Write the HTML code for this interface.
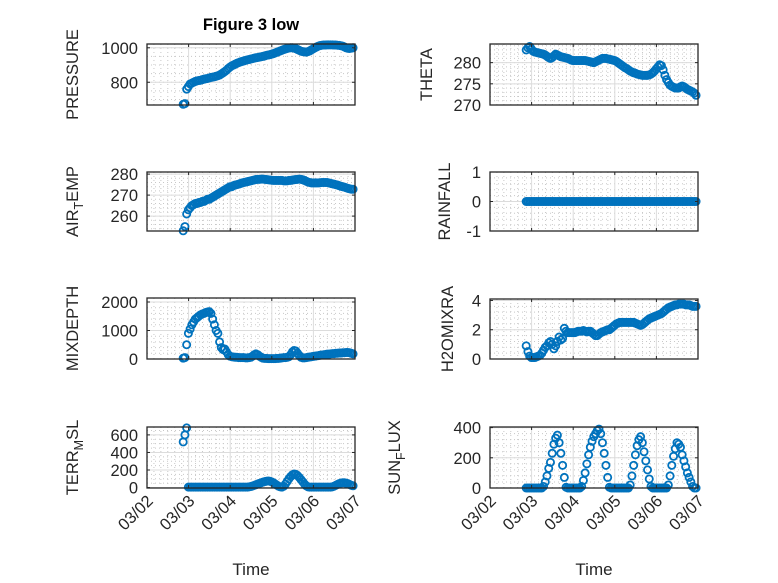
<!DOCTYPE html>
<html><head><meta charset="utf-8"><style>
html,body{margin:0;padding:0;background:#fff;}
svg{display:block;font-family:"Liberation Sans",sans-serif;}
</style></head><body>
<svg id="fig" width="778" height="583" viewBox="0 0 778 583">
<rect width="778" height="583" fill="#fff"/>
<text x="251" y="30" font-size="16.5" font-weight="bold" text-anchor="middle" fill="#000">Figure 3 low</text>
</svg>
<script>
// ---- data (hourly samples starting at day START) ----
const START = 0.87, STEP = 1/24;
const xTickLabels = ["03/02","03/03","03/04","03/05","03/06","03/07"];
const pressure = [672,676,760,775,790,795,800,805,808,810,812,815,
818,820,822,825,828,830,832,835,838,842,848,855,
862,870,880,888,895,900,905,910,914,918,921,924,
927,930,932,935,937,940,942,944,946,948,950,953,
956,958,960,963,966,970,974,978,982,986,990,993,
996,999,1000,1000,998,995,990,985,980,978,976,975,
978,982,988,994,1000,1005,1010,1013,1015,1016,1016,1017,
1017,1017,1017,1016,1016,1015,1014,1012,1010,1005,1000,997,
996,998,1000];
const theta = [283,283.5,283.8,283.2,282.7,282.5,282.4,282.3,282.2,282.1,282,281.8,
281.5,281.2,281,281.2,281.6,282,281.8,281.6,281.4,281.3,281.2,281.1,
281,280.8,280.6,280.5,280.5,280.5,280.5,280.5,280.5,280.5,280.5,280.4,
280.3,280.2,280.1,280,280.2,280.4,280.6,280.8,281,281,281,280.9,
280.8,280.7,280.6,280.5,280.3,280,279.7,279.4,279.1,278.8,278.6,278.3,
278,277.8,277.6,277.5,277.3,277.2,277.1,277,277,277,277,277.1,
277.3,277.6,278,278.5,279,279.5,279.3,278.3,277,276,275.3,274.7,
274.4,274.2,274,274,274,274.3,274.5,274.3,274,273.7,273.5,273.3,
273.1,272.8,272.3];
const airTemp = [253,255,261,263,264,265,265.5,266,266,266.5,266.5,267,
267,267.5,268,268,268.5,269,269.5,270,270.5,271,271.5,272,
272.5,273,273.5,274,274,274.5,274.8,275,275.2,275.5,275.8,276,
276.2,276.4,276.6,276.8,277,277.2,277.4,277.5,277.5,277.6,277.6,277.5,
277.4,277.3,277.2,277.1,277,277,277,277,277,277,276.8,276.8,
276.8,277,277,277.2,277.3,277.4,277.5,277.6,277.5,277.3,277,276.6,
276.2,276,275.8,275.8,275.8,275.8,275.8,275.9,276,276,276,276,
275.8,275.6,275.4,275.2,275,274.8,274.5,274.2,274,273.8,273.5,273.2,
273,272.8,272.8];
const rainfall = [0,0,0,0,0,0,0,0,0,0,0,0, 0,0,0,0,0,0,0,0,0,0,0,0,
0,0,0,0,0,0,0,0,0,0,0,0, 0,0,0,0,0,0,0,0,0,0,0,0,
0,0,0,0,0,0,0,0,0,0,0,0, 0,0,0,0,0,0,0,0,0,0,0,0,
0,0,0,0,0,0,0,0,0,0,0,0, 0,0,0,0,0,0,0,0,0,0,0,0, 0,0,0];
const mixDepth = [30,50,500,900,1050,1200,1300,1400,1450,1500,1550,1580,
1600,1630,1650,1660,1600,1400,1200,1000,900,600,400,330,
350,250,150,100,80,70,60,60,50,50,50,50,
40,40,50,60,100,150,180,150,100,60,30,20,
20,15,15,15,15,15,20,20,30,40,50,50,
60,80,150,250,300,280,200,120,60,40,40,50,
60,70,80,90,100,110,120,130,140,150,160,170,
170,180,190,190,200,200,210,210,220,220,230,230,
220,200,180];
const h2oMix = [0.9,0.5,0.2,0.1,0.1,0.1,0.15,0.2,0.25,0.4,0.6,0.8,
0.9,1.1,1.2,1.0,0.7,0.9,1.2,1.5,1.3,1.4,2.1,1.9,
1.8,1.8,1.8,1.8,1.8,1.85,1.9,1.9,1.9,1.95,1.9,1.85,
1.9,1.9,1.8,1.7,1.6,1.6,1.7,1.8,1.85,1.9,1.95,2.0,
2.0,2.1,2.2,2.3,2.4,2.45,2.5,2.5,2.5,2.5,2.5,2.5,
2.5,2.5,2.5,2.45,2.4,2.35,2.3,2.35,2.45,2.55,2.65,2.75,
2.8,2.85,2.9,2.95,3.0,3.05,3.1,3.2,3.3,3.4,3.5,3.55,
3.6,3.65,3.7,3.7,3.75,3.75,3.75,3.75,3.7,3.7,3.7,3.65,
3.6,3.6,3.6];
const terrMsl = [520,600,680,5,5,5,5,5,5,5,5,5,
5,5,5,5,5,5,5,5,5,5,5,5,
5,5,5,5,5,5,5,5,5,5,5,5,
5,5,8,12,18,25,32,40,48,55,62,68,
72,75,72,65,55,42,28,15,8,5,15,40,
70,100,125,145,155,150,135,115,90,65,40,20,
8,5,5,5,5,5,5,5,5,5,5,5,
5,5,8,15,25,35,45,52,55,55,50,45,
35,25,20];
const sunFlux = [0,0,0,0,0,0,0,0,0,0,10,40,
80,130,170,230,290,330,350,300,230,150,70,5,
0,0,0,0,0,0,0,0,10,50,100,160,
220,270,310,340,360,380,390,360,300,230,150,70,
5,0,0,0,0,0,0,0,0,0,0,0,
20,80,150,220,280,320,340,300,240,180,120,60,
10,0,0,0,0,0,0,0,0,0,20,80,
150,210,260,300,290,270,220,180,140,100,70,40,
10,0,0];

const NS = "http://www.w3.org/2000/svg";
const svg = document.getElementById("fig");
function mk(tag, attrs, parent){const e=document.createElementNS(NS,tag);for(const k in attrs)e.setAttribute(k,attrs[k]);(parent||svg).appendChild(e);return e;}

const panels = [
 {key:"pressure", data:pressure, label:["PRESSURE"], x0:147,x1:355,y0:44,y1:105, ymin:668,ymax:1022, ticks:[800,1000], minor:50, lx:78},
 {key:"theta", data:theta, label:["THETA"], x0:490,x1:698,y0:44,y1:105, ymin:270,ymax:284.4, ticks:[270,275,280], minor:1, lx:432},
 {key:"air-temp", data:airTemp, label:["AIR","T","EMP"], x0:147,x1:355,y0:172,y1:231, ymin:252.9,ymax:281, ticks:[260,270,280], minor:2, lx:78},
 {key:"rainfall", data:rainfall, label:["RAINFALL"], x0:490,x1:698,y0:172,y1:231, ymin:-1,ymax:1, ticks:[-1,0,1], minor:0.2, lx:450},
 {key:"mixdepth", data:mixDepth, label:["MIXDEPTH"], x0:147,x1:355,y0:298,y1:359, ymin:0,ymax:2140, ticks:[0,1000,2000], minor:200, lx:78},
 {key:"h2omixra", data:h2oMix, label:["H2OMIXRA"], x0:490,x1:698,y0:299,y1:359, ymin:0,ymax:4.1, ticks:[0,2,4], minor:0.4, lx:453},
 {key:"terr-msl", data:terrMsl, label:["TERR","M","SL"], x0:147,x1:355,y0:427,y1:488, ymin:-5,ymax:690, ticks:[0,200,400,600], minor:50, lx:78, xt:true},
 {key:"sun-flux", data:sunFlux, label:["SUN","F","LUX"], x0:490,x1:698,y0:427,y1:488, ymin:0,ymax:404, ticks:[0,200,400], minor:40, lx:400, xt:true}
];

panels.forEach(p=>{
  const g = mk("g",{});
  
  
  const X = d => p.x0 + (d/5)*(p.x1-p.x0);
  const Y = v => p.y1 - (v-p.ymin)/(p.ymax-p.ymin)*(p.y1-p.y0);
  mk("rect",{x:p.x0,y:p.y0,width:p.x1-p.x0,height:p.y1-p.y0,fill:"#fff"},g);
  for(let d=1/6; d<5; d+=1/6){ if(Math.abs(d-Math.round(d))<1e-6) continue;
    mk("line",{x1:X(d),x2:X(d),y1:p.y0,y2:p.y1,stroke:"#c8c8c8","stroke-width":1,"stroke-dasharray":"1 3"},g);}
  const m0 = Math.ceil(p.ymin/p.minor)*p.minor;
  for(let v=m0; v<p.ymax; v+=p.minor){
    mk("line",{x1:p.x0,x2:p.x1,y1:Y(v),y2:Y(v),stroke:"#c8c8c8","stroke-width":1,"stroke-dasharray":"1 3"},g);}
  for(let d=1; d<5; d++) mk("line",{x1:X(d),x2:X(d),y1:p.y0,y2:p.y1,stroke:"#dcdcdc","stroke-width":1},g);
  p.ticks.forEach(v=>{ mk("line",{x1:p.x0,x2:p.x1,y1:Y(v),y2:Y(v),stroke:"#dcdcdc","stroke-width":1},g);});
  const mg = mk("g",{fill:"none",stroke:"#0072BD","stroke-width":1.8},g);
  
  
  p.data.forEach((v,i)=>{
    const c = mk("circle",{cx:X(START+i*STEP).toFixed(2),cy:Y(v).toFixed(2),r:3.6},mg);
    
    
  });
  mk("rect",{x:p.x0,y:p.y0,width:p.x1-p.x0,height:p.y1-p.y0,fill:"none",stroke:"#262626","stroke-width":1.3},g);
  for(let d=0; d<=5; d++){
    mk("line",{x1:X(d),x2:X(d),y1:p.y1,y2:p.y1-3,stroke:"#262626"},g);
    mk("line",{x1:X(d),x2:X(d),y1:p.y0,y2:p.y0+3,stroke:"#262626"},g);
  }
  p.ticks.forEach(v=>{
    mk("line",{x1:p.x0,x2:p.x0+3,y1:Y(v),y2:Y(v),stroke:"#262626"},g);
    mk("line",{x1:p.x1,x2:p.x1-3,y1:Y(v),y2:Y(v),stroke:"#262626"},g);
    const t = mk("text",{x:p.x0-9,y:Y(v)+6,"font-size":16.5,"text-anchor":"end",fill:"#262626"},g);
    t.textContent = String(v);
    
    
  });
  const cy = (p.y0+p.y1)/2;
  const yl = mk("text",{x:p.lx,y:cy,"font-size":16.5,"text-anchor":"middle",fill:"#262626",transform:`rotate(-90 ${p.lx} ${cy})`},g);
  
  
  if(p.label.length===1){ yl.textContent=p.label[0]; }
  else{
    const a=mk("tspan",{},yl); a.textContent=p.label[0];
    const b=mk("tspan",{dy:5,"font-size":12.5},yl); b.textContent=p.label[1];
    const c=mk("tspan",{dy:-5},yl); c.textContent=p.label[2];
  }
  if(p.xt){
    for(let d=0; d<=5; d++){
      const tx=X(d)+7, ty=p.y1+14;
      const t=mk("text",{x:tx,y:ty,"font-size":16.5,"text-anchor":"end",fill:"#262626",transform:`rotate(-45 ${tx} ${ty})`},g);
      t.textContent = xTickLabels[d];
      
      
    }
    const xl=mk("text",{x:(p.x0+p.x1)/2,y:575,"font-size":17,"text-anchor":"middle",fill:"#262626"},g);
    xl.textContent="Time";
    
    
  }
});
</script>
</body></html>
